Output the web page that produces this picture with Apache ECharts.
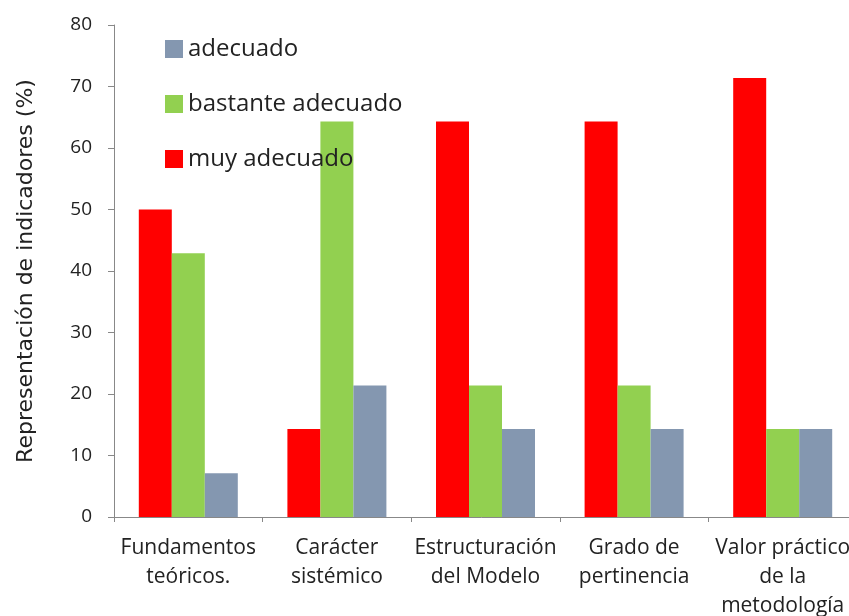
<!DOCTYPE html>
<html lang="es">
  <head>
    <meta charset="UTF-8" />
    <script src="https://cdn.jsdelivr.net/npm/echarts@6/dist/echarts.min.js"></script>
    <style>
      html, body { margin: 0; padding: 0; background: #fff; }
      #main { width: 849px; height: 616px; }
    </style>
  </head>
  <body>
    <div id="main"></div>
    <script>
      const categories = [
        "Fundamentos\nteóricos.",
        "Carácter\nsistémico",
        "Estructuración\ndel Modelo",
        "Grado de\npertinencia",
        "Valor práctico\nde la\nmetodología",
      ];
      const muyAdecuado = [50, 14.3, 64.3, 64.3, 71.4];
      const bastanteAdecuado = [42.9, 64.3, 21.4, 21.4, 14.3];
      const adecuado = [7.1, 21.4, 14.3, 14.3, 14.3];
      const legendOrder = ["adecuado", "bastante adecuado", "muy adecuado"];

      const font = "'Open Sans', 'DejaVu Sans', sans-serif";
      const chart = echarts.init(document.getElementById("main"));

      chart.setOption({
        animation: false,
        textStyle: { fontFamily: font },
        legend: {
          data: legendOrder,
          orient: "vertical",
          left: 160,
          top: 32,
          itemWidth: 18,
          itemHeight: 18,
          itemGap: 31,
          icon: "rect",
          textStyle: { fontSize: 24, lineHeight: 24, color: "#222", fontFamily: font },
        },
        grid: { left: 114, right: -8, top: 25, bottom: 99, outerBoundsMode: "none" },
        xAxis: {
          type: "category",
          data: categories,
          axisLine: { lineStyle: { color: "#888" } },
          axisTick: { show: true, length: 5, lineStyle: { color: "#888" } },
          axisLabel: {
            color: "#222",
            fontSize: 21,
            lineHeight: 29,
            margin: 17,
            interval: 0,
          },
        },
        yAxis: {
          type: "value",
          min: 0,
          max: 80,
          interval: 10,
          name: "Representación de indicadores (%)",
          nameLocation: "middle",
          nameGap: 77,
          nameTextStyle: { fontSize: 22, color: "#222", fontFamily: "'DejaVu Sans', sans-serif" },
          axisLine: { show: true, lineStyle: { color: "#888" } },
          axisTick: { show: true, length: 6, lineStyle: { color: "#888" } },
          axisLabel: { color: "#222", fontSize: 19, margin: 22 },
          splitLine: { show: false },
        },
        series: [
          {
            name: "muy adecuado",
            type: "bar",
            data: muyAdecuado,
            barWidth: 33,
            barGap: "0%",
            itemStyle: { color: "#ff0000" },
          },
          {
            name: "bastante adecuado",
            type: "bar",
            data: bastanteAdecuado,
            barWidth: 33,
            barGap: "0%",
            itemStyle: { color: "#92d050" },
          },
          {
            name: "adecuado",
            type: "bar",
            data: adecuado,
            barWidth: 33,
            barGap: "0%",
            itemStyle: { color: "#8497b0" },
          },
        ],
      });
    </script>
  </body>
</html>
